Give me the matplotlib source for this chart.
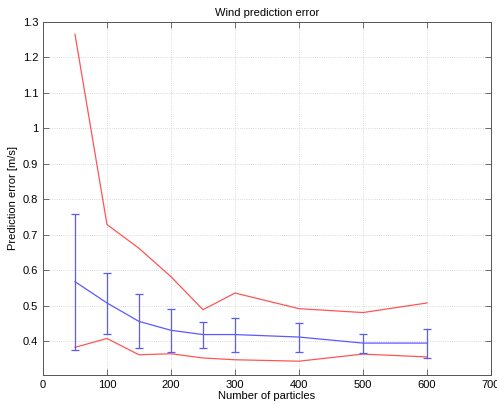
import matplotlib
matplotlib.use("Agg")
import matplotlib.pyplot as plt

# datos
particulas = [50, 100, 150, 200, 250, 300, 400, 500, 600]
error_medio = [0.568, 0.508, 0.456, 0.431, 0.419, 0.419, 0.412, 0.395, 0.395]
error_sup = [0.760, 0.593, 0.534, 0.491, 0.454, 0.466, 0.452, 0.422, 0.436]
error_inf = [0.376, 0.421, 0.382, 0.370, 0.382, 0.371, 0.371, 0.366, 0.354]
maximo = [1.265, 0.729, 0.662, 0.582, 0.489, 0.536, 0.492, 0.481, 0.508]
minimo = [0.383, 0.408, 0.362, 0.365, 0.353, 0.348, 0.344, 0.364, 0.356]

plt.rcParams['font.family'] = ['Liberation Sans', 'DejaVu Sans']
fig = plt.figure(figsize=(4.97, 4.05), dpi=100, facecolor='white')
ax = fig.add_axes([0.0865, 0.074, 0.9015, 0.872])

ax.plot(particulas, maximo, color='#ff5555', lw=0.9)
ax.plot(particulas, minimo, color='#ff5555', lw=0.9)
abajo = [m - e for m, e in zip(error_medio, error_inf)]
arriba = [e - m for m, e in zip(error_medio, error_sup)]
ax.errorbar(particulas, error_medio, yerr=[abajo, arriba], color='#5a5aff',
            lw=0.9, elinewidth=0.9, capsize=3.2, capthick=0.9)

ax.set_xlim(0, 700)
ax.set_ylim(0.305, 1.3)
ax.set_xticks(range(0, 701, 100))
ax.set_yticks([0.4, 0.5, 0.6, 0.7, 0.8, 0.9, 1.0, 1.1, 1.2, 1.3])
ax.set_yticklabels(['0.4', '0.5', '0.6', '0.7', '0.8', '0.9', '1', '1.1', '1.2', '1.3'])
ax.tick_params(direction='in', labelsize=8, length=4, width=0.6, color='#555555',
               top=True, right=True)
ax.grid(True, linestyle=':', color='#cccccc', lw=0.6)
ax.set_axisbelow(True)
for s in ax.spines.values():
    s.set_color('#555555')
    s.set_linewidth(0.7)

ax.set_title('Wind prediction error', fontsize=8, pad=4)
ax.set_xlabel('Number of particles', fontsize=8, labelpad=1)
ax.set_ylabel('Prediction error [m/s]', fontsize=8, labelpad=3)

plt.savefig('out.png', dpi=100)
